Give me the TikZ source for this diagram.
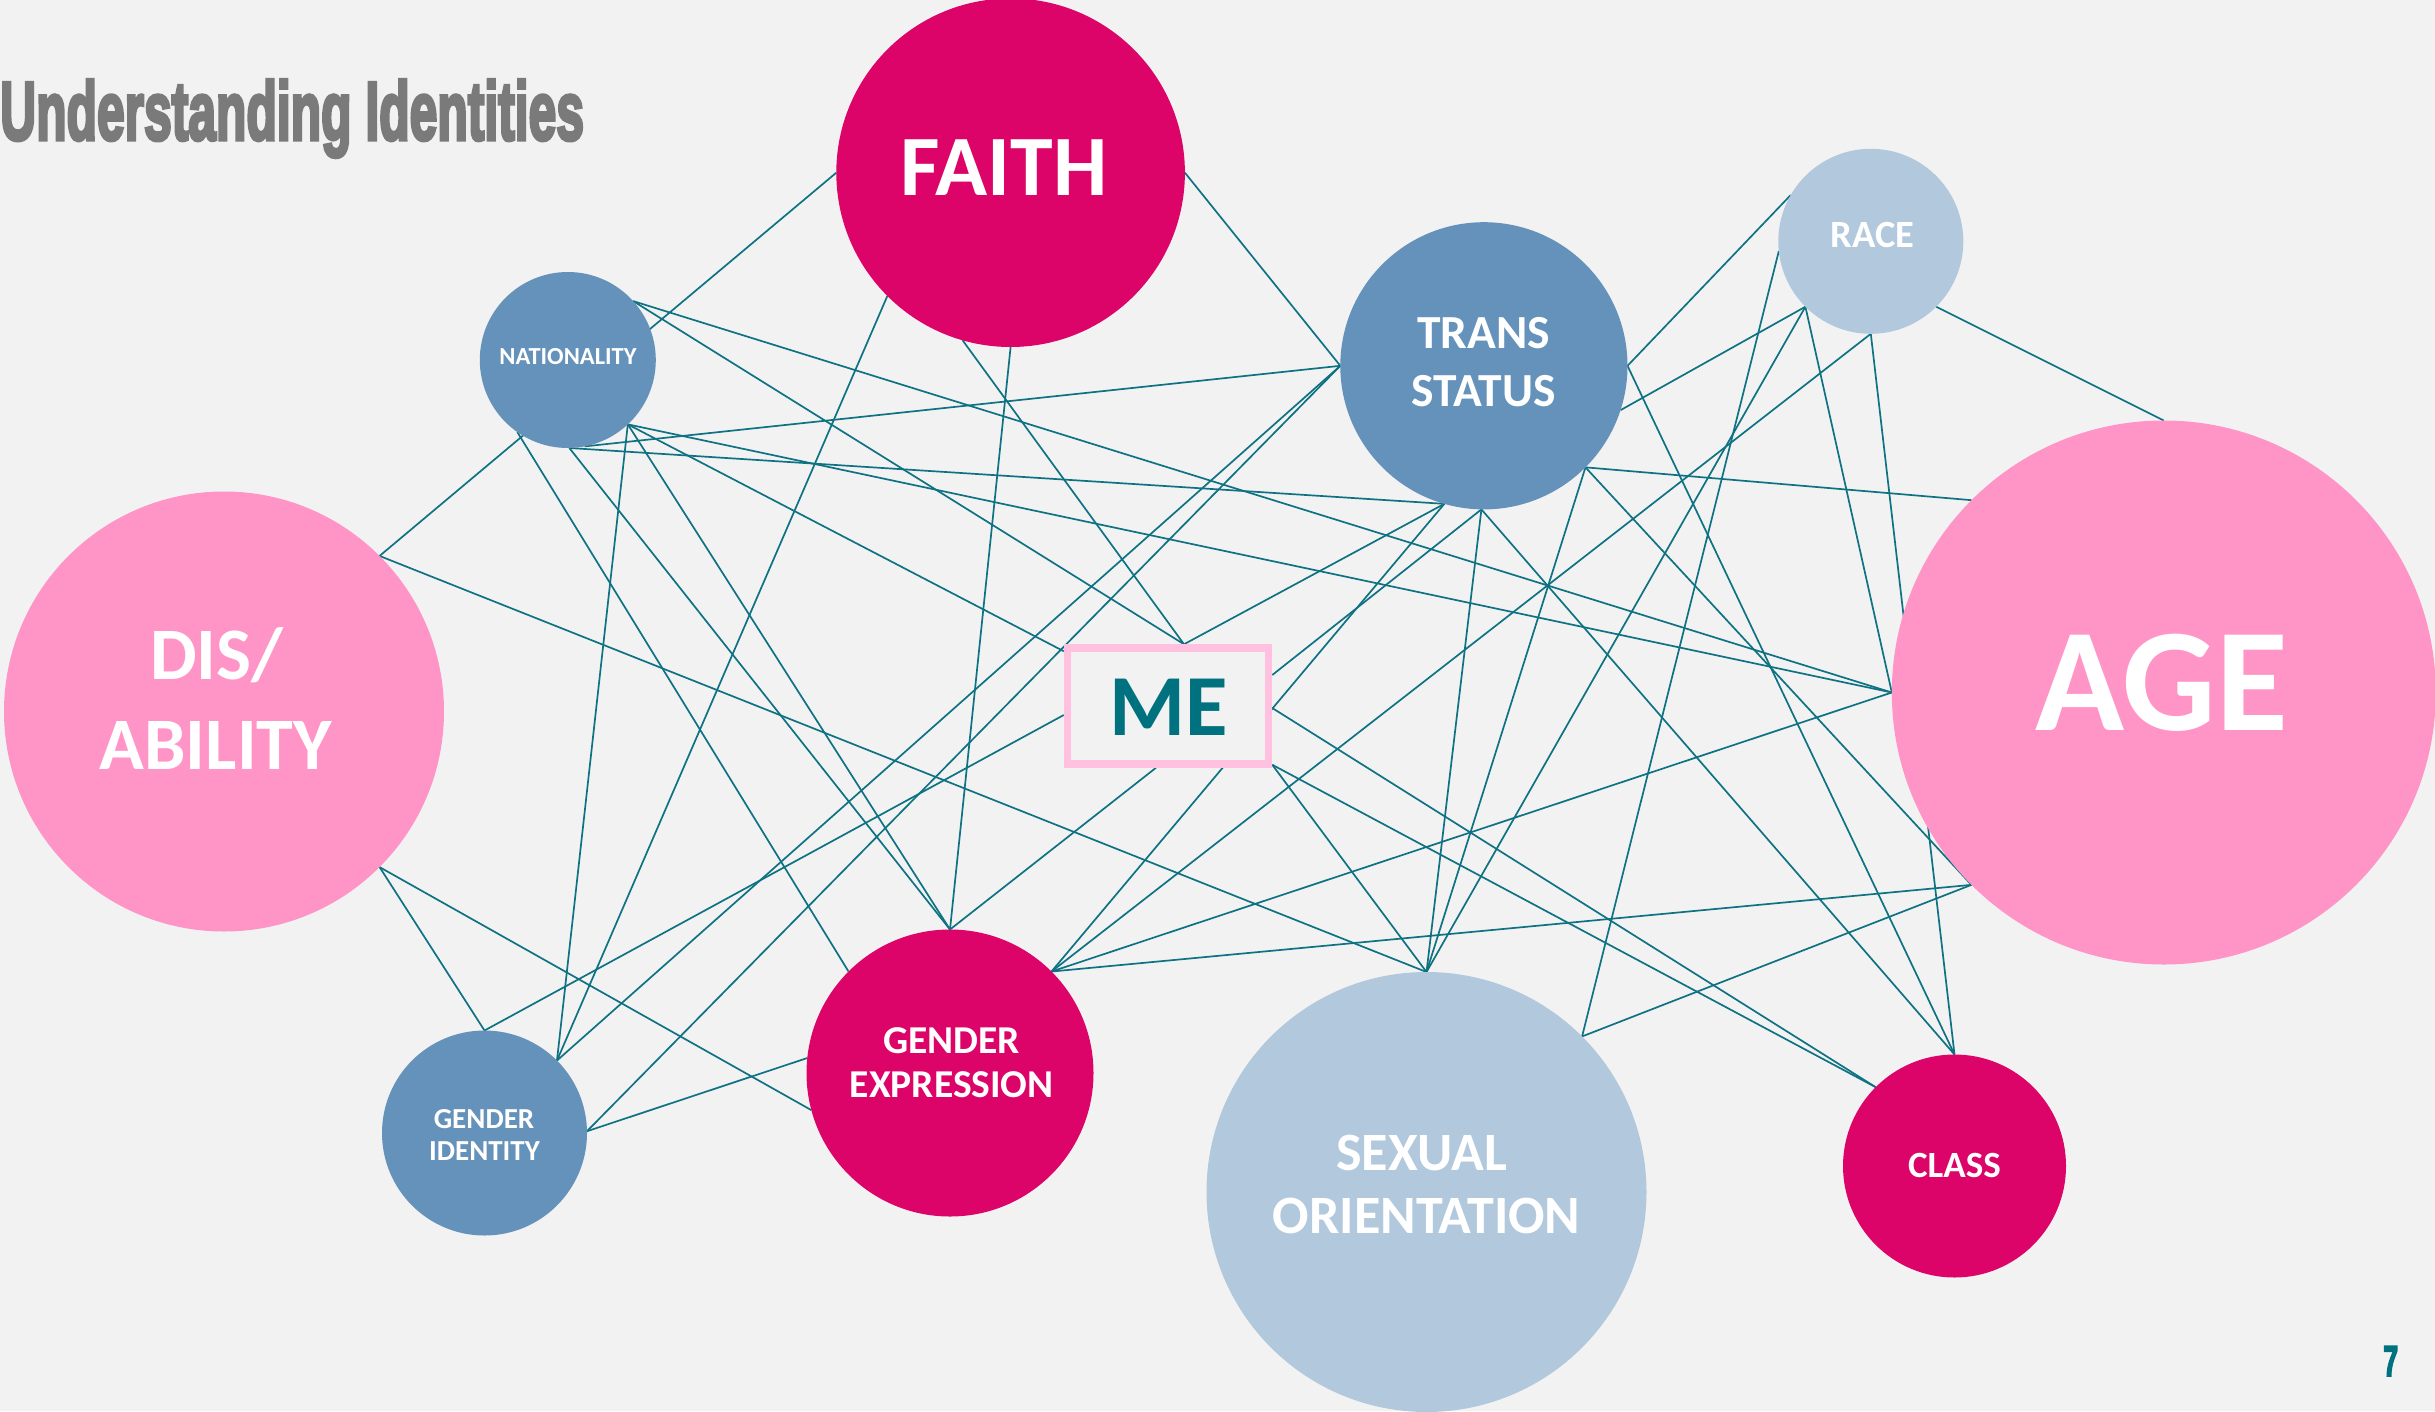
\documentclass[tikz,border=0pt]{standalone}
\usepackage{fontspec}
\usepackage{graphicx}
\setmainfont{Carlito}
\newfontfamily\titlefont[FakeBold=4.5]{Liberation Sans}

\definecolor{pagebg}{HTML}{F2F2F2}
\definecolor{hotpink}{HTML}{DC0468}
\definecolor{softpink}{HTML}{FF95C6}
\definecolor{steelblue}{HTML}{6592BA}
\definecolor{paleblue}{HTML}{B2C8DD}
\definecolor{framepink}{HTML}{FFC1DF}
\definecolor{linkteal}{HTML}{0E7283}
\definecolor{metext}{HTML}{00717F}
\definecolor{titlegray}{HTML}{7A7A7A}

\newcommand{\setsz}[1]{\fontsize{#1pt}{#1pt}\selectfont}

\pgfdeclarelayer{back}
\pgfdeclarelayer{links}
\pgfsetlayers{back,links,main}

\begin{document}
\begin{tikzpicture}[x=1pt,y=-1pt,
  bubble/.style={circle, inner sep=0pt, outer sep=0pt, draw=none},
  link/.style={draw=linkteal, line width=1.7pt},
  lbl/.style={anchor=base, inner sep=0pt, outer sep=0pt, text=white},
  mebox/.style={rectangle, draw=framepink, fill=pagebg, line width=7.5pt,
    outer sep=3.75pt, minimum width=201pt, minimum height=116pt, inner sep=0pt}]

\useasboundingbox (0,0) rectangle (2435,1411);
\begin{pgfonlayer}{back}
  \fill[pagebg] (0,0) rectangle (2435,1411);
\end{pgfonlayer}

% identity bubbles
\node[bubble, fill=hotpink,   minimum size=348.6pt] (faith) at (1010.6,172.7) {};
\node[bubble, fill=steelblue, minimum size=176pt]   (nat)   at (567.8,360) {};
\node[bubble, fill=steelblue, minimum size=287.2pt] (trans) at (1483.9,365.8) {};
\node[bubble, fill=paleblue,  minimum size=185pt]   (race)  at (1870.8,241.3) {};
\node[bubble, fill=softpink,  minimum size=544pt]   (age)   at (2163.8,692.5) {};
\node[bubble, fill=softpink,  minimum size=440pt]   (dis)   at (224,711.5) {};
\node[bubble, fill=steelblue, minimum size=205pt]   (gi)    at (484.5,1133) {};
\node[bubble, fill=hotpink,   minimum size=287pt]   (ge)    at (950,1073) {};
\node[bubble, fill=paleblue,  minimum size=440pt]   (so)    at (1426.5,1192) {};
\node[bubble, fill=hotpink,   minimum size=223pt]   (class) at (1954.5,1166) {};

% centre box
\node[mebox] (me) at (1168,706) {};

% labels
\node[lbl, font=\bfseries\setsz{86}] (faith-t) at (1004,195.8) {FAITH};
\node[lbl, font=\bfseries\setsz{24.5}] (nat-t) at (568,364) {NATIONALITY};
\node[lbl, font=\bfseries\setsz{47.5}] (trans-t1) at (1483.5,348) {TRANS};
\node[lbl, font=\bfseries\setsz{47.5}] (trans-t2) at (1483.5,406.5) {STATUS};
\node[lbl, font=\bfseries\setsz{38.5}] (race-t) at (1872.3,247) {RACE};
\node[lbl, font=\bfseries\setsz{147}] (age-t) at (2161.5,730.2) {AGE};
\node[lbl, font=\bfseries\setsz{74}] (dis-t1) at (216.9,679.4) {DIS/};
\node[lbl, font=\bfseries\setsz{74}] (dis-t2) at (215.7,769) {ABILITY};
\node[lbl, font=\bfseries\setsz{29}] (gi-t1) at (484,1128.3) {GENDER};
\node[lbl, font=\bfseries\setsz{29}] (gi-t2) at (484.5,1160.9) {IDENTITY};
\node[lbl, font=\bfseries\setsz{39.5}] (ge-t1) at (951.7,1053.7) {GENDER};
\node[lbl, font=\bfseries\setsz{39.5}] (ge-t2) at (951.7,1097.2) {EXPRESSION};
\node[lbl, font=\bfseries\setsz{54}] (so-t1) at (1421.8,1170.2) {SEXUAL};
\node[lbl, font=\bfseries\setsz{54}] (so-t2) at (1426.7,1233.9) {ORIENTATION};
\node[lbl, font=\bfseries\setsz{37}] (class-t) at (1954.4,1177.5) {CLASS};
\node[lbl, text=metext, font=\bfseries\setsz{87}] (me-t) at (1168.7,735) {ME};

% heading and page number
\node[anchor=base west, inner sep=0pt, text=titlegray] (title) at (0,139.8)
  {\titlefont\bfseries\setsz{83}\scalebox{0.6}[1]{Understanding Identities}};
\node[anchor=base, inner sep=0pt, text=metext] (pageno) at (2390.7,1375.8)
  {\titlefont\bfseries\setsz{43}\scalebox{0.62}[1]{7}};

% connectors, kept beneath the bubbles
\begin{pgfonlayer}{links}
  \draw[link] (faith.180) -- (dis.45);
  \draw[link] (faith.0) -- (trans.180);
  \draw[link] (faith.225) -- (gi.45);
  \draw[link] (faith.270) -- (ge.90);
  \draw[link] (faith.254) -- ([xshift=16pt]me.north);

  \draw[link] (nat.42) -- (age.180);
  \draw[link] (nat.42) -- ([xshift=16pt]me.north);
  \draw[link] (nat.313.5) -- (age.180);
  \draw[link] (nat.313.5) -- ([yshift=-7pt]me.north west);
  \draw[link] (nat.313.5) -- (gi.45);
  \draw[link] (nat.313.5) -- (ge.90);
  \draw[link] (nat.271) -- (trans.254);
  \draw[link] (nat.271) -- (ge.90);
  \draw[link] (nat.235) -- (ge.135);
  \draw[link] (nat.281.6) -- (trans.180);

  \draw[link] (dis.45) -- (so.90);
  \draw[link] (dis.315) -- (ge.195.6);
  \draw[link] (dis.315) -- (gi.90);

  \draw[link] (gi.90) -- ([yshift=-9pt]me.west);
  \draw[link] (gi.45) -- (trans.180);
  \draw[link] (gi.1.7) -- (trans.180);
  \draw[link] (gi.1.7) -- (ge.174);

  \draw[link] (ge.90) -- ([xshift=-12pt]me.south);
  \draw[link] (ge.45) -- (trans.254);
  \draw[link] (ge.45) -- (race.270);
  \draw[link] (ge.45) -- (age.180);
  \draw[link] (ge.45) -- (age.225);

  \draw[link] (trans.254) -- ([xshift=16pt]me.north);
  \draw[link] (trans.269.4) -- ([yshift=31pt]me.east);
  \draw[link] (trans.269.4) -- (so.90);
  \draw[link] (trans.269.4) -- (class.90);
  \draw[link] (trans.315) -- (age.135);
  \draw[link] (trans.315) -- (so.90);
  \draw[link] (trans.315) -- (age.225);
  \draw[link] (trans.0) -- (race.150);
  \draw[link] (trans.0) -- (class.90);
  \draw[link] (trans.342.5) -- (race.225);

  \draw[link] (race.225) -- (so.90);
  \draw[link] (race.225) -- (age.180);
  \draw[link] (race.186) -- (so.45);
  \draw[link] (race.270) -- (class.90);
  \draw[link] (race.315) -- (age.90);

  \draw[link] ([yshift=-2pt]me.east) -- (class.135);
  \draw[link] ([yshift=3pt]me.south east) -- (class.135);
  \draw[link] ([yshift=3pt]me.south east) -- (so.90);
  \draw[link] (so.45) -- (age.225);
\end{pgfonlayer}
\end{tikzpicture}
\end{document}
